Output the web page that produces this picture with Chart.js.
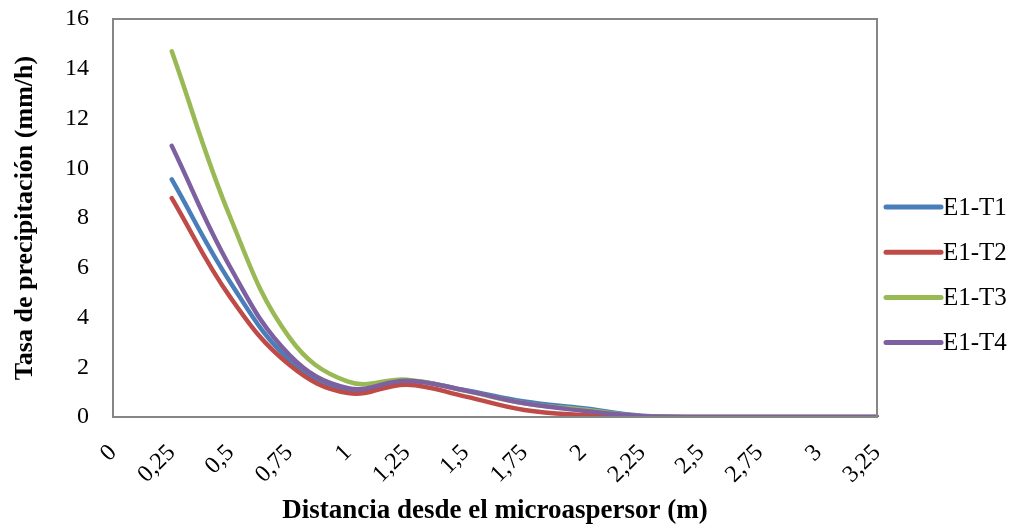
<!DOCTYPE html>
<html>
<head>
<meta charset="utf-8">
<script src="https://cdn.jsdelivr.net/npm/chart.js@4/dist/chart.umd.min.js"></script>
<style>
  html, body { margin: 0; padding: 0; background: #fff; }
  #wrap { width: 1018px; height: 525px; }
</style>
</head>
<body>
<div id="wrap"><canvas id="precipChart" width="1018" height="525"></canvas></div>
<script>
// distances from the micro-sprinkler (m)
const distances = ['0', '0,25', '0,5', '0,75', '1', '1,25', '1,5', '1,75', '2', '2,25', '2,5', '2,75', '3', '3,25'];

// precipitation rate (mm/h) per test
const e1t1 = [null, 9.55, 5.4, 2.3, 1.05, 1.45, 1.08, 0.62, 0.35, 0.05, 0, 0, 0, 0];
const e1t2 = [null, 8.8, 4.8, 2.1, 0.96, 1.3, 0.82, 0.28, 0.08, 0, 0, 0, 0, 0];
const e1t3 = [null, 14.7, 8.0, 3.2, 1.42, 1.5, 1.05, 0.55, 0.3, 0.03, 0, 0, 0, 0];
const e1t4 = [null, 10.9, 6.0, 2.5, 1.16, 1.46, 1.06, 0.55, 0.25, 0.03, 0, 0, 0, 0];

const seriesNames = ['E1-T1', 'E1-T2', 'E1-T3', 'E1-T4'];
const seriesColors = ['#4A7EBB', '#BE4B48', '#98B954', '#7D60A0'];

const serif = "'Liberation Serif', 'Times New Roman', serif";

// frame around the plot area plus a line legend on the right
const frameAndLegend = {
    id: 'frameAndLegend',
    afterDraw(chart) {
        const ctx = chart.ctx;
        const a = chart.chartArea;
        ctx.save();
        ctx.strokeStyle = '#868686';
        ctx.lineWidth = 2;
        ctx.strokeRect(a.left, a.top, a.right - a.left, a.bottom - a.top);

        const x0 = a.right + 9;
        const x1 = x0 + 55;
        const yStart = 207;
        const gap = 45.2;
        ctx.lineCap = 'round';
        ctx.lineWidth = 5;
        ctx.font = '25px ' + serif;
        ctx.fillStyle = '#000';
        ctx.textBaseline = 'middle';
        chart.data.datasets.forEach((ds, i) => {
            const y = yStart + i * gap;
            ctx.strokeStyle = ds.borderColor;
            ctx.beginPath();
            ctx.moveTo(x0, y);
            ctx.lineTo(x1, y);
            ctx.stroke();
            ctx.fillText(ds.label, x1 + 2, y + 1);
        });
        ctx.restore();
    }
};

const seriesData = [e1t1, e1t2, e1t3, e1t4];

new Chart(document.getElementById('precipChart'), {
    type: 'line',
    data: {
        labels: distances,
        datasets: seriesData.map((values, i) => ({
            label: seriesNames[i],
            data: values,
            borderColor: seriesColors[i],
            backgroundColor: seriesColors[i],
            borderWidth: 4.5,
            borderCapStyle: 'round',
            pointRadius: 0,
            tension: 0.4,
            fill: false,
            order: 4 - i
        }))
    },
    options: {
        responsive: false,
        animation: false,
        devicePixelRatio: 1,
        layout: { padding: { top: 19, right: 141, left: 0, bottom: 0 } },
        plugins: {
            legend: { display: false },
            tooltip: { enabled: false }
        },
        scales: {
            x: {
                type: 'category',
                offset: false,
                grid: { display: false },
                border: { display: false },
                ticks: {
                    color: '#000',
                    font: { family: serif, size: 24 },
                    minRotation: 45,
                    maxRotation: 45,
                    autoSkip: false,
                    padding: 14
                },
                title: {
                    display: true,
                    text: 'Distancia desde el microaspersor (m)',
                    color: '#000',
                    font: { family: serif, size: 27, weight: 'bold', lineHeight: 1 },
                    padding: { top: 0, bottom: 0 }
                },
                afterFit(scale) {
                    scale.height = 108;
                    scale.paddingLeft = 0;
                    scale.paddingRight = 0;
                }
            },
            y: {
                min: 0,
                max: 16,
                grid: { display: false },
                border: { display: false },
                ticks: {
                    stepSize: 2,
                    color: '#000',
                    font: { family: serif, size: 24 },
                    padding: 16
                },
                title: {
                    display: true,
                    text: 'Tasa de precipitación (mm/h)',
                    color: '#000',
                    font: { family: serif, size: 26, weight: 'bold' },
                    padding: { top: 10, bottom: 0 }
                },
                afterFit(scale) {
                    scale.width = 113;
                    scale.paddingTop = 0;
                    scale.paddingBottom = 0;
                }
            }
        }
    },
    plugins: [frameAndLegend]
});
</script>
</body>
</html>
